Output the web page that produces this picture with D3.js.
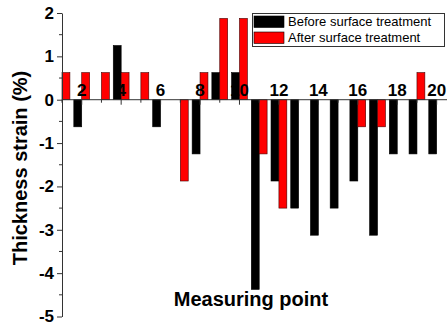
<!DOCTYPE html>
<html>
<head>
<meta charset="utf-8">
<script src="https://cdn.jsdelivr.net/npm/d3@7"></script>
<style>
  body { margin: 0; background: #fff; }
  svg { display: block; }
</style>
</head>
<body>
<div id="chart"></div>
<script>
// measuring points and strain values (%)
var points = d3.range(1, 21);
var before = [0, -0.625, 0, 1.25, 0, -0.625, 0, -1.25, 0.625, 0.625,
              -4.375, -1.875, -2.5, -3.125, -2.5, -1.875, -3.125, -1.25, -1.25, -1.25];
var after = [0.625, 0.625, 0.625, 0.625, 0.625, 0, -1.875, 0.625, 1.875, 1.875,
             -1.25, -2.5, 0, 0, 0, -0.625, -0.625, 0, 0.625, 0];
var seriesNames = ["Before surface treatment", "After surface treatment"];
var seriesColors = ["#000000", "#ff0000"];
var yTicks = [-5, -4, -3, -2, -1, 0, 1, 2];
var xTicks = [2, 4, 6, 8, 10, 12, 14, 16, 18, 20];

function init() {
    var w = 447, h = 323;

    var svg = d3.select("#chart")
        .append("svg")
        .attr("width", w)
        .attr("height", h)
        .style("font-family", "Arial, 'Liberation Sans', sans-serif");

    var x = d3.scaleLinear().domain([1, 21]).range([62, 456.4]);
    var y = d3.scaleLinear().domain([-5, 2]).range([316.5, 13]);
    var bw = 7.9;

    // bars: black left of the point, red right of it
    var rows = points.map(function(p, i) { return {p: p, b: before[i], a: after[i]}; });

    svg.selectAll("rect.before")
        .data(rows)
        .enter()
        .append("rect")
        .attr("class", "before")
        .attr("x", function(d) { return x(d.p) - bw; })
        .attr("y", function(d) { return y(Math.max(0, d.b)); })
        .attr("width", bw)
        .attr("height", function(d) { return Math.abs(y(d.b) - y(0)); })
        .attr("fill", seriesColors[0])
        .attr("stroke", "#000")
        .attr("stroke-width", 0.6);

    svg.selectAll("rect.after")
        .data(rows)
        .enter()
        .append("rect")
        .attr("class", "after")
        .attr("x", function(d) { return x(d.p); })
        .attr("y", function(d) { return y(Math.max(0, d.a)); })
        .attr("width", bw)
        .attr("height", function(d) { return Math.abs(y(d.a) - y(0)); })
        .attr("fill", seriesColors[1])
        .attr("stroke", "#400")
        .attr("stroke-width", 0.6);

    // y axis
    var yAxis = d3.axisLeft(y).tickValues(yTicks).tickSize(5).tickSizeOuter(0)
        .tickFormat(d3.format("d"));
    var gy = svg.append("g")
        .attr("transform", "translate(62,0)")
        .call(yAxis);
    gy.selectAll("text")
        .attr("font-size", "17px")
        .attr("font-weight", "bold")
        .attr("fill", "#000")
        .attr("x", -8)
        .text(function(d) { return d < 0 ? "-" + Math.abs(d) : d; });
    gy.select(".domain").attr("stroke", "#333");
    gy.selectAll(".tick line").attr("stroke", "#333");

    // minor ticks on y
    svg.append("g")
        .selectAll("line")
        .data(d3.range(-4.5, 2, 1))
        .enter()
        .append("line")
        .attr("x1", 59).attr("x2", 62)
        .attr("y1", function(d) { return y(d); })
        .attr("y2", function(d) { return y(d); })
        .attr("stroke", "#333");

    // x axis at zero, labels above
    var gx = svg.append("g").attr("transform", "translate(0," + y(0) + ")");
    gx.append("line")
        .attr("x1", 62).attr("x2", w)
        .attr("stroke", "#333");
    gx.selectAll("line.tk")
        .data(points)
        .enter()
        .append("line")
        .attr("class", "tk")
        .attr("x1", function(d) { return x(d); })
        .attr("x2", function(d) { return x(d); })
        .attr("y1", 0)
        .attr("y2", function(d) { return d % 2 === 0 ? 5 : 3; })
        .attr("stroke", "#333");
    gx.selectAll("text")
        .data(xTicks)
        .enter()
        .append("text")
        .attr("x", function(d) { return x(d); })
        .attr("y", -4)
        .attr("text-anchor", "middle")
        .attr("font-size", "17px")
        .attr("font-weight", "bold")
        .text(function(d) { return d; });

    // axis titles
    svg.append("text")
        .attr("transform", "translate(27,168) rotate(-90)")
        .attr("text-anchor", "middle")
        .attr("font-size", "20px")
        .attr("font-weight", "bold")
        .text("Thickness strain (%)");

    svg.append("text")
        .attr("x", 251)
        .attr("y", 306)
        .attr("text-anchor", "middle")
        .attr("font-size", "20px")
        .attr("font-weight", "bold")
        .text("Measuring point");

    // legend
    var lg = svg.append("g");
    lg.append("rect")
        .attr("x", 252.5).attr("y", 13.5)
        .attr("width", 192).attr("height", 33)
        .attr("fill", "#fff")
        .attr("stroke", "#333");
    seriesNames.forEach(function(name, i) {
        lg.append("rect")
            .attr("x", 254).attr("y", 16 + i * 16)
            .attr("width", 30).attr("height", 11.5)
            .attr("fill", seriesColors[i])
            .attr("stroke", "#000")
            .attr("stroke-width", 0.6);
        lg.append("text")
            .attr("x", 288).attr("y", 26 + i * 16)
            .attr("font-size", "13px")
            .text(name);
    });
}

window.onload = init;
</script>
</body>
</html>
